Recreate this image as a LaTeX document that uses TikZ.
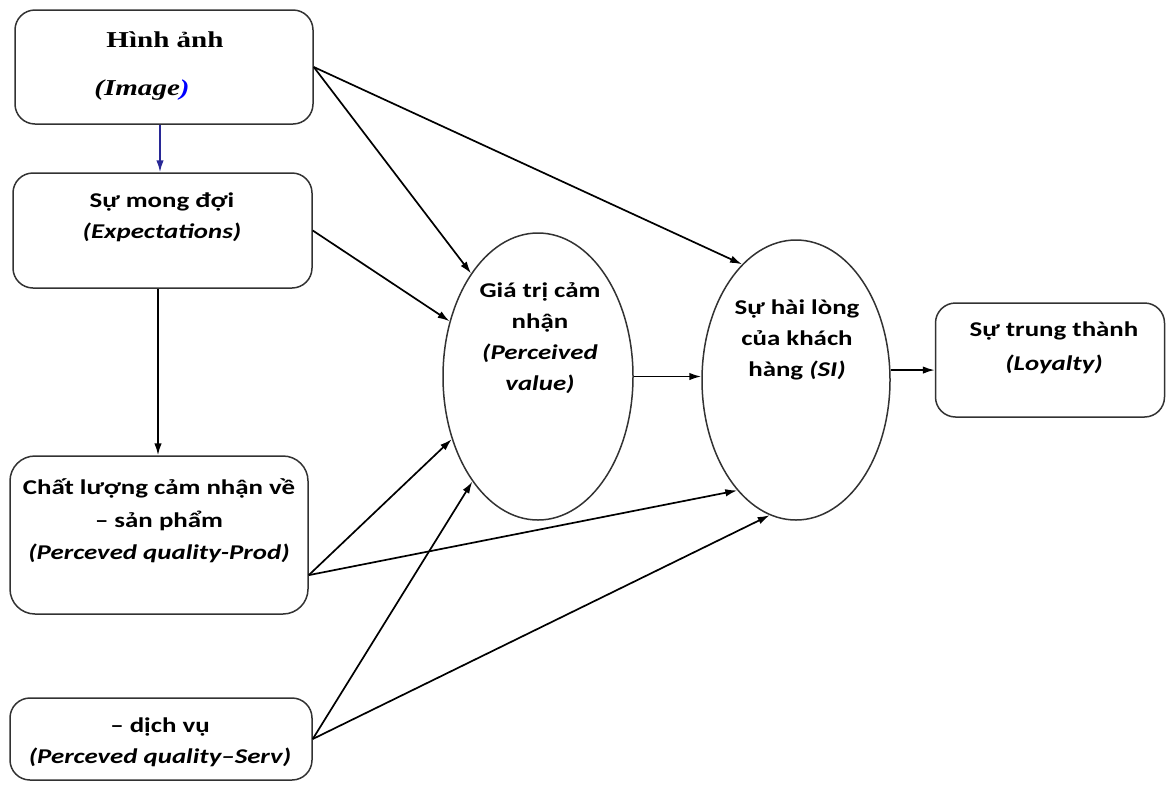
\documentclass[tikz,border=0pt]{standalone}
\usepackage{fontspec}
\setmainfont{Carlito}[FakeStretch=1.28]
\newfontfamily\timesfont{Liberation Serif}[FakeStretch=1.28]
\usetikzlibrary{shapes.geometric,arrows.meta}
\definecolor{navyline}{RGB}{40,40,150}
\definecolor{edgegray}{RGB}{50,50,50}
\tikzset{
  box/.style={draw=edgegray, line width=1.5pt, rounded corners=20pt, inner sep=0pt},
  oval/.style={draw=edgegray, ellipse, line width=1.5pt, inner sep=0pt},
  txt/.style={align=center, font=\fontsize{21}{31}\selectfont\bfseries},
  serif/.style={font=\fontsize{22.7}{30}\selectfont\timesfont\bfseries},
  arr/.style={-{Latex[length=12pt,width=7.5pt]}, line width=1.7pt},
}
\begin{document}
\begin{tikzpicture}[x=1pt, y=-1pt]
  \useasboundingbox (0,0) rectangle (1166,785);
  % boxes on the left
  \node[box, minimum width=298pt, minimum height=114pt] (img) at (164,67) {};
  \node[box, minimum width=299pt, minimum height=115pt] (exp) at (162.5,230.5) {};
  \node[box, minimum width=298pt, minimum height=158pt, rounded corners=25pt] (prod) at (159,535) {};
  \node[box, minimum width=302pt, minimum height=82pt] (serv) at (161,739) {};
  % ovals and the box on the right
  \node[oval, minimum width=190pt, minimum height=287pt] (pv) at (538,376.5) {};
  \node[oval, minimum width=188pt, minimum height=280pt] (si) at (796,380) {};
  \node[box, minimum width=229pt, minimum height=114pt] (loy) at (1050,360) {};

  % texts
  \node[serif] (img-vi) at (165,40) {Hình ảnh};
  \node[serif, font=\fontsize{22.7}{30}\selectfont\timesfont\bfseries\itshape] (img-en) at (142,90) {(Image\textcolor{blue}{)}};
  \node[txt] (exp-t) at (162,217) {Sự mong đợi\\ \textit{(Expectations)}};
  \node[txt, font=\fontsize{21}{32.5}\selectfont\bfseries] (prod-t) at (159,521) {Chất lượng cảm nhận về\\ – sản phẩm\\ \textit{(Perceved quality-Prod)}};
  \node[txt] (serv-t) at (160,742) {– dịch vụ\\ \textit{(Perceved quality–Serv)}};
  \node[txt] (pv-t) at (540,338.5) {Giá trị cảm\\ nhận\\ \textit{(Perceived}\\ \textit{value)}};
  \node[txt] (si-t) at (797,340) {Sự hài lòng\\ của khách\\ hàng \textit{(SI)}};
  \node[txt, font=\fontsize{21}{34}\selectfont\bfseries] (loy-t) at (1054,348) {Sự trung thành\\ \textit{(Loyalty)}};

  % connectors
  \draw[arr, navyline] (img.south -| 160,0) -- (exp.north -| 160,0);
  \draw[arr] (exp.south -| 158,0) -- (prod.north -| 158,0);
  \draw[arr] (img.east) -- (pv.123);
  \draw[arr] (img.east) -- (si.115);
  \draw[arr] (exp.east) -- (pv.148);
  \draw[arr] (prod.-15) -- (pv.216);
  \draw[arr] (prod.-15) -- (si.242);
  \draw[arr] (serv.east) -- (pv.238);
  \draw[arr] (serv.east) -- (si.259);
  \draw[arr] (pv.east) -- (pv.east -| si.west);
  \draw[arr] (si.6) -- (si.6 -| loy.west);
\end{tikzpicture}
\end{document}
